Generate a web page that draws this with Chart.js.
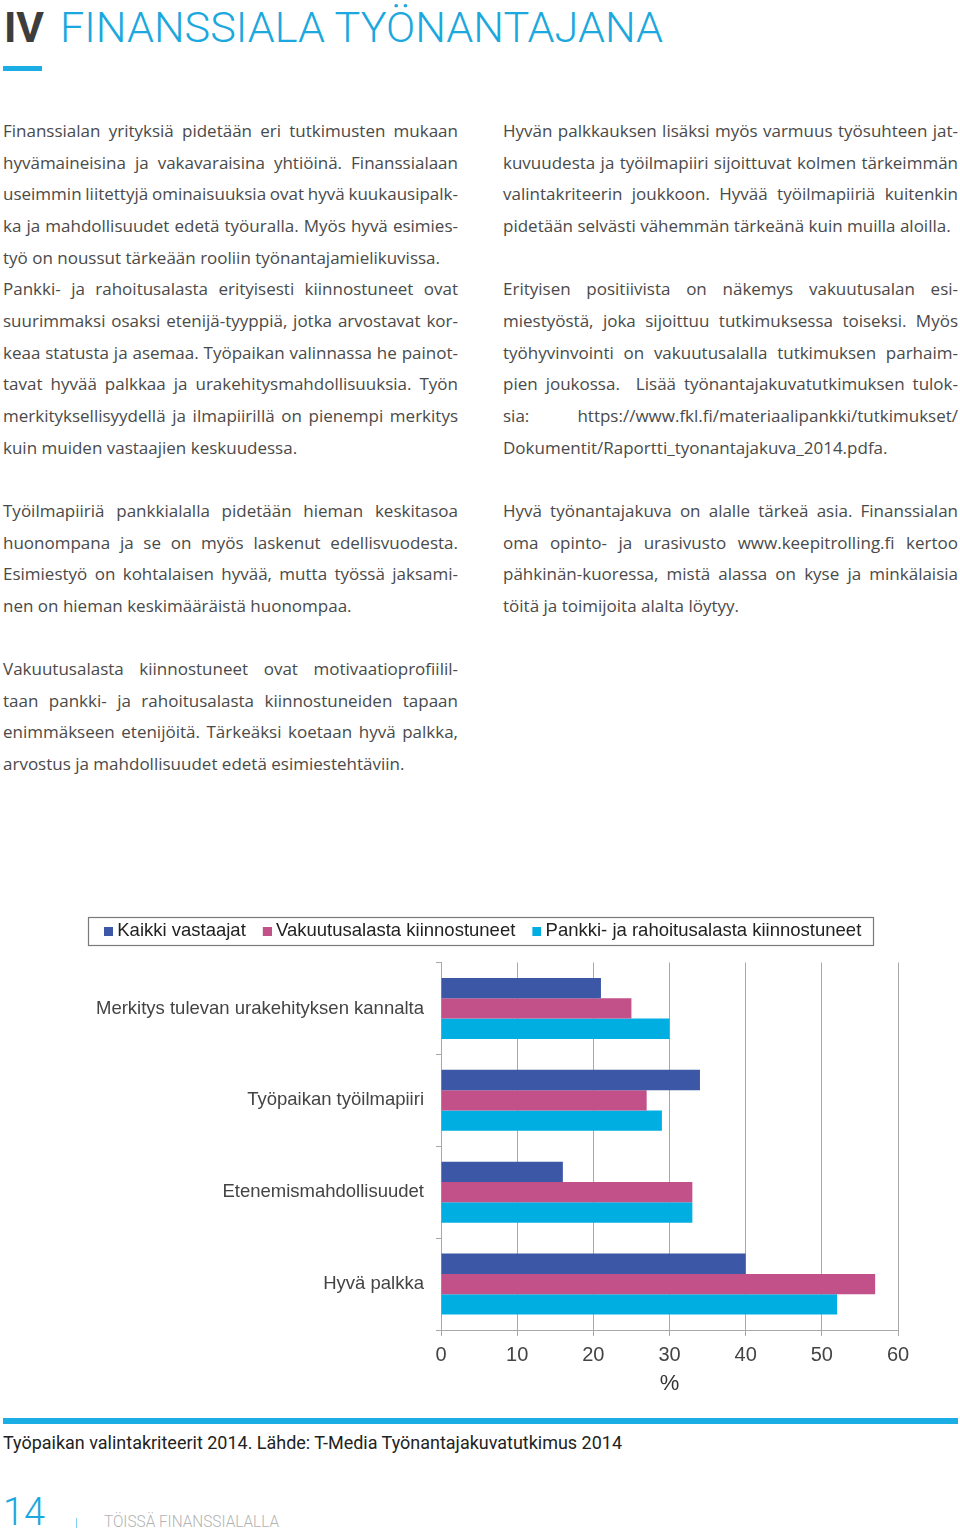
<!DOCTYPE html>
<html>
<head>
<meta charset="utf-8">
<script src="https://cdn.jsdelivr.net/npm/chart.js@4/dist/chart.umd.min.js"></script>
<style>
  html, body { margin: 0; padding: 0; background: #fff; }
  body { width: 960px; height: 1531px; position: relative; overflow: hidden; }
  .abs { position: absolute; white-space: nowrap; }
  .col { position: absolute; width: 455px; font-family: "Open Sans", Lato, sans-serif; font-size: 17px; color: #4a4a4a; }
  .col div { height: 31.67px; line-height: 31.67px; white-space: pre; }
  .fit { display: inline-block; transform-origin: 0 0; }
</style>
</head>
<body>

<div class="abs" style="left:3px; top:-1px; height:60px; font-family:Roboto, sans-serif; font-size:43px; line-height:56px;"><span id="t1" class="fit" style="font-weight:700; color:#3d3d3d; position:absolute; left:1px; top:0;">IV</span><span id="t2" class="fit" style="font-weight:300; color:#1ba8de; position:absolute; left:57px; top:0;">FINANSSIALA TYÖNANTAJANA</span></div>
<div class="abs" style="left:3px; top:66px; width:39px; height:5px; background:#1aaee4;"></div>

<div id="colL" class="col" style="left:3px; top:115px;"></div>
<div id="colR" class="col" style="left:503px; top:115px;"></div>

<div style="position:absolute; left:0; top:900px; width:960px; height:500px;"><canvas id="chart" width="960" height="500" style="width:960px;height:500px;"></canvas></div>

<div class="abs" style="left:3px; top:1418px; width:955px; height:6px; background:#1aaee4;"></div>
<div class="abs" style="left:3px; top:1431px; font-family:Roboto, sans-serif; font-size:18px; line-height:24px; color:#222;"><span id="cap" class="fit">Työpaikan valintakriteerit 2014. Lähde: T-Media Työnantajakuvatutkimus 2014</span></div>
<div class="abs" style="left:3px; top:1490px; font-family:Roboto, sans-serif; font-size:39px; line-height:44px; color:#1ba8de; font-weight:300;"><span id="pg" class="fit">14</span></div>
<div class="abs" style="left:76px; top:1518px; width:1px; height:10px; background:#7fcfee;"></div>
<div class="abs" style="left:104px; top:1512px; font-family:Roboto, sans-serif; font-size:16px; line-height:19px; color:#b3b3b3; font-weight:300;"><span id="ft" class="fit">TÖISSÄ FINANSSIALALLA</span></div>

<script>
// ---------- text content ----------
const leftLines = [
  ["Finanssialan yrityksiä pidetään eri tutkimusten mukaan", 1],
  ["hyvämaineisina ja vakavaraisina yhtiöinä. Finanssialaan", 1],
  ["useimmin liitettyjä ominaisuuksia ovat hyvä kuukausipalk-", 1],
  ["ka ja mahdollisuudet edetä työuralla. Myös hyvä esimies-", 1],
  ["työ on noussut tärkeään rooliin työnantajamielikuvissa.", 0],
  ["Pankki- ja rahoitusalasta erityisesti kiinnostuneet ovat", 1],
  ["suurimmaksi osaksi etenijä-tyyppiä, jotka arvostavat kor-", 1],
  ["keaa statusta ja asemaa. Työpaikan valinnassa he painot-", 1],
  ["tavat hyvää palkkaa ja urakehitysmahdollisuuksia. Työn", 1],
  ["merkityksellisyydellä ja ilmapiirillä on pienempi merkitys", 1],
  ["kuin muiden vastaajien keskuudessa.", 0],
  ["", 0],
  ["Työilmapiiriä pankkialalla pidetään hieman keskitasoa", 1],
  ["huonompana ja se on myös laskenut edellisvuodesta.", 1],
  ["Esimiestyö on kohtalaisen hyvää, mutta työssä jaksami-", 1],
  ["nen on hieman keskimääräistä huonompaa.", 0],
  ["", 0],
  ["Vakuutusalasta kiinnostuneet ovat motivaatioprofiilil-", 1],
  ["taan pankki- ja rahoitusalasta kiinnostuneiden tapaan", 1],
  ["enimmäkseen etenijöitä. Tärkeäksi koetaan hyvä palkka,", 1],
  ["arvostus ja mahdollisuudet edetä esimiestehtäviin.", 0]
];
const rightLines = [
  ["Hyvän palkkauksen lisäksi myös varmuus työsuhteen jat-", 1],
  ["kuvuudesta ja työilmapiiri sijoittuvat kolmen tärkeimmän", 1],
  ["valintakriteerin joukkoon. Hyvää työilmapiiriä kuitenkin", 1],
  ["pidetään selvästi vähemmän tärkeänä kuin muilla aloilla.", 0],
  ["", 0],
  ["Erityisen positiivista on näkemys vakuutusalan esi-", 1],
  ["miestyöstä, joka sijoittuu tutkimuksessa toiseksi. Myös", 1],
  ["työhyvinvointi on vakuutusalalla tutkimuksen parhaim-", 1],
  ["pien joukossa.  Lisää työnantajakuvatutkimuksen tulok-", 1],
  ["sia: https://www.fkl.fi/materiaalipankki/tutkimukset/", 1],
  ["Dokumentit/Raportti_tyonantajakuva_2014.pdfa.", 0],
  ["", 0],
  ["Hyvä työnantajakuva on alalle tärkeä asia. Finanssialan", 1],
  ["oma opinto- ja urasivusto www.keepitrolling.fi kertoo", 1],
  ["pähkinän-kuoressa, mistä alassa on kyse ja minkälaisia", 1],
  ["töitä ja toimijoita alalta löytyy.", 0]
];

function fillCol(id, lines) {
  const col = document.getElementById(id);
  const W = 455;
  lines.forEach(([txt, just]) => {
    const d = document.createElement('div');
    const s = document.createElement('span');
    s.textContent = txt;
    d.appendChild(s);
    col.appendChild(d);
    let nat = s.getBoundingClientRect().width;
    const n = (txt.match(/ /g) || []).length;
    if (!just && nat > W) {
      s.style.letterSpacing = ((W - nat) / txt.length) + 'px';
    }
    if (just && txt && n > 0) {
      if ((W - nat) / n < -1.5) {
        s.style.letterSpacing = (((W - nat) + 1.5 * n) / txt.length) + 'px';
        nat = s.getBoundingClientRect().width;
      }
      s.style.wordSpacing = ((W - nat) / n) + 'px';
    }
  });
}

function fitTo(id, w) {
  const el = document.getElementById(id);
  const cur = el.getBoundingClientRect().width;
  el.style.transform = 'scaleX(' + (w / cur) + ')';
}

// ---------- chart data ----------
const categories = [
  "Merkitys tulevan urakehityksen kannalta",
  "Työpaikan työilmapiiri",
  "Etenemismahdollisuudet",
  "Hyvä palkka"
];
const seriesNames = ["Kaikki vastaajat", "Vakuutusalasta kiinnostuneet", "Pankki- ja rahoitusalasta kiinnostuneet"];
const kaikki = [21, 34, 16, 40];
const vakuutus = [25, 27, 33, 57];
const pankki = [30, 29, 33, 52];
const xTicks = [0, 10, 20, 30, 40, 50, 60];
const axisTitle = "%";

const colors = ["#3b57a6", "#c2518a", "#00aee2"];
const gridCol = "#a8a8a8";

// legend marker images: 9px square placed so the text follows ~4px after it
function markerImage(color) {
  const c = document.createElement('canvas');
  c.width = 14; c.height = 9;
  const g = c.getContext('2d');
  g.fillStyle = color;
  g.fillRect(5, 0, 9, 9);
  return c;
}
const markers = colors.map(markerImage);

const legendPlugin = {
  id: 'legendTweak',
  afterInit(chart) {
    const lg = chart.legend;
    const orig = lg.fit;
    lg.fit = function () { orig.call(this); this.height += 12; };
  },
  afterUpdate(chart) {
    const lg = chart.legend;
    if (!lg || !lg.legendHitBoxes || !lg.legendHitBoxes.length) return;
    const d = 104 - lg.legendHitBoxes[0].left;
    lg.left += d; lg.right += d;
    lg.legendHitBoxes.forEach(h => { h.left += d; });
  },
  afterDraw(chart) {
    const lg = chart.legend;
    if (!lg || !lg.legendHitBoxes || !lg.legendHitBoxes.length) return;
    const hb = lg.legendHitBoxes;
    let l = Infinity, r = -Infinity;
    const cy = lg.top + 26;
    hb.forEach(h => { l = Math.min(l, h.left); r = Math.max(r, h.left + h.width); });
    const ctx = chart.ctx;
    ctx.save();
    ctx.strokeStyle = '#7a7a7a';
    ctx.lineWidth = 1.2;
    ctx.strokeRect(Math.round(l - 16) + 0.5, Math.round(cy - 14) + 0.5, Math.round(r - l + 28), 28);
    ctx.restore();
  }
};

Chart.defaults.font.family = '"Liberation Sans", Arial, sans-serif';

new Chart(document.getElementById('chart'), {
  type: 'bar',
  data: {
    labels: categories,
    datasets: [
      { label: seriesNames[0], data: kaikki, backgroundColor: colors[0] },
      { label: seriesNames[1], data: vakuutus, backgroundColor: colors[1] },
      { label: seriesNames[2], data: pankki, backgroundColor: colors[2] }
    ]
  },
  options: {
    indexAxis: 'y',
    responsive: false,
    animation: false,
    devicePixelRatio: 1,
    categoryPercentage: 0.663,
    barPercentage: 1.0,
    layout: { padding: { top: 5, right: 62, left: 0, bottom: 0 } },
    plugins: {
      legend: {
        position: 'top',
        labels: {
          usePointStyle: true,
          pointStyleWidth: 4,
          boxHeight: 9,
          padding: 17,
          color: '#222',
          font: { size: 18.5 },
          generateLabels(chart) {
            const items = Chart.defaults.plugins.legend.labels.generateLabels(chart);
            items.forEach((it, i) => { it.pointStyle = markers[i]; });
            return items;
          }
        }
      },
      tooltip: { enabled: false }
    },
    scales: {
      x: {
        min: 0, max: 60,
        afterBuildTicks(s) { s.ticks = xTicks.map(v => ({ value: v })); },
        ticks: { color: '#444', font: { size: 20 }, padding: 7 },
        grid: { color: gridCol, lineWidth: 1, tickLength: 6 },
        border: { color: gridCol, width: 1 },
        title: { display: true, text: axisTitle, color: '#333', font: { size: 22 }, padding: { top: 0, bottom: 3 } },
        afterFit(s) { s.height = 70; }
      },
      y: {
        ticks: { color: '#444', font: { size: 18.5 }, padding: 12 },
        grid: { drawOnChartArea: false, tickLength: 5, color: gridCol, offset: true },
        border: { color: gridCol, width: 1 },
        afterFit(s) { s.width = 441; }
      }
    }
  },
  plugins: [legendPlugin]
});

fillCol('colL', leftLines);
fillCol('colR', rightLines);
fitTo('t1', 40);
fitTo('t2', 603);
fitTo('cap', 619);
fitTo('pg', 42);
fitTo('ft', 175);
</script>
</body>
</html>
